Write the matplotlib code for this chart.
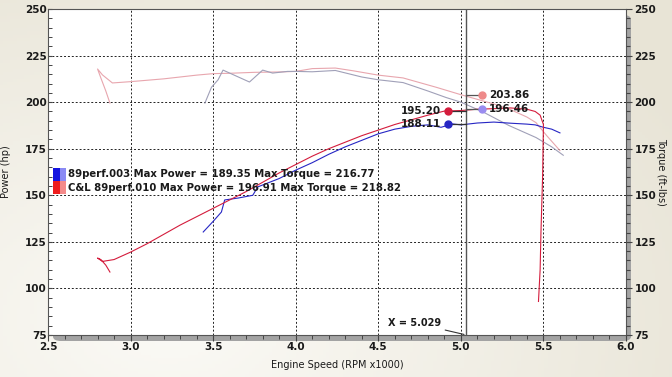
import numpy as np
import matplotlib
matplotlib.use("Agg")
import matplotlib.pyplot as plt
from matplotlib.patches import Rectangle, FancyBboxPatch
from matplotlib.colors import LinearSegmentedColormap

# ------------------------------------------------------------
# data (rpm x1000)
# ------------------------------------------------------------
# C&L 89perf.010 - power (hp)
red_pwr_rpm = [2.875, 2.85, 2.82, 2.80, 2.83, 2.90, 3.00, 3.10, 3.20, 3.30, 3.40, 3.50,
               3.60, 3.70, 3.80, 3.90, 4.00, 4.10, 4.20, 4.30, 4.40, 4.50, 4.60, 4.70,
               4.80, 4.90, 5.00, 5.10, 5.20, 5.30, 5.40, 5.45, 5.48, 5.50, 5.495, 5.485,
               5.48, 5.47]
red_pwr = [108.8, 112.5, 115.5, 116.3, 114.5, 115.5, 119.5, 124.0, 129.0, 134.0, 138.5, 143.0,
           147.5, 152.0, 157.0, 162.0, 166.5, 171.0, 175.0, 178.5, 182.0, 185.0, 188.0, 190.5,
           193.0, 195.2, 195.5, 196.2, 196.5, 196.9, 196.2, 195.0, 193.0, 188.0, 160.0, 130.0,
           110.0, 93.0]

# 89perf.003 - power (hp)
blue_pwr_rpm = [3.44, 3.50, 3.55, 3.57, 3.65, 3.74, 3.77, 3.90, 4.00, 4.10, 4.20, 4.30,
                4.40, 4.50, 4.60, 4.70, 4.80, 4.88, 4.95, 5.00, 5.10, 5.20, 5.30, 5.40,
                5.45, 5.50, 5.55, 5.60]
blue_pwr = [130.3, 136.0, 141.0, 147.5, 148.5, 150.0, 154.5, 159.0, 163.5, 167.5, 172.0, 176.0,
            179.5, 183.0, 185.5, 187.0, 187.8, 186.5, 188.3, 187.8, 188.8, 189.3, 188.7, 188.2,
            187.8, 186.5, 185.5, 183.5]

# C&L 89perf.010 - torque (ft-lbs)
red_tq_rpm = [2.875, 2.85, 2.82, 2.80, 2.83, 2.89, 3.00, 3.20, 3.40, 3.50, 3.60, 3.75,
              3.90, 4.00, 4.10, 4.24, 4.35, 4.50, 4.65, 4.85, 5.00, 5.10, 5.20, 5.30,
              5.40, 5.455, 5.52, 5.60]
red_tq = [199.5, 206.0, 213.0, 217.8, 214.6, 210.3, 211.0, 212.5, 214.5, 215.3, 215.5, 216.0,
          216.2, 216.5, 218.0, 218.3, 216.8, 214.5, 213.0, 208.0, 204.0, 201.5, 199.0, 196.0,
          192.0, 189.0, 182.0, 174.0]

# 89perf.003 - torque (ft-lbs)
blue_tq_rpm = [3.45, 3.49, 3.53, 3.56, 3.64, 3.72, 3.80, 3.86, 3.95, 4.00, 4.10, 4.24,
               4.40, 4.50, 4.65, 4.80, 4.91, 5.00, 5.135, 5.29, 5.455, 5.55, 5.62]
blue_tq = [199.5, 208.0, 212.0, 217.2, 214.0, 210.8, 217.2, 215.6, 216.5, 216.5, 216.3, 217.0,
           213.5, 212.0, 210.5, 206.0, 202.5, 200.0, 194.7, 187.5, 181.0, 176.0, 171.5]

cursor_x = 5.029
# values read at the cursor
cur_red_pwr, cur_blue_pwr = 195.20, 188.11
cur_red_tq, cur_blue_tq = 203.86, 196.46

legend_lines = ["89perf.003 Max Power = 189.35 Max Torque = 216.77",
                "C&L 89perf.010 Max Power = 196.91 Max Torque = 218.82"]

# ------------------------------------------------------------
# colours / fonts
# ------------------------------------------------------------
RED = "#d41c3c"
BLUE = "#2626c4"
RED_TQ = "#e8a6ae"
BLUE_TQ = "#a0a0b8"
INK = "#1a1a1a"
FS = 7.5
plt.rcParams["font.family"] = "DejaVu Sans"
plt.rcParams["font.weight"] = "bold"

fig = plt.figure(figsize=(6.72, 3.77), dpi=100, facecolor="#f1eee6")
W, H = 672, 377

# soft beige gradient behind everything
bg = fig.add_axes([0, 0, 1, 1], zorder=-10)
gx, gy = np.meshgrid(np.linspace(0, 1, 200), np.linspace(0, 1, 120))
glow = np.clip(1 - np.hypot((gx - 0.25) / 0.9, (gy - 0.85) / 1.1), 0, 1)
bg.imshow(glow, cmap=LinearSegmentedColormap.from_list("bg", ["#e8e4d6", "#fbfaf6"]),
          aspect="auto", extent=[0, 1, 0, 1], origin="upper")
bg.set_axis_off()

ax_l, ax_b, ax_w, ax_h = 48 / W, 42 / H, 578 / W, 326 / H

# drop shadow behind the plot panel
shadow = FancyBboxPatch((ax_l + 5 / W, ax_b - 6 / H), ax_w, ax_h,
                        boxstyle="round,pad=0,rounding_size=0.012",
                        transform=fig.transFigure, facecolor="#a3a3a3",
                        edgecolor="none", zorder=-5)
fig.patches.append(shadow)

ax = fig.add_axes([ax_l, ax_b, ax_w, ax_h])
ax.set_zorder(1)
ax.set_facecolor("white")
ax.set_xlim(2.5, 6.0)
ax.set_ylim(75, 250)
for s in ax.spines.values():
    s.set_color("#555555")
    s.set_linewidth(0.8)

ax.set_xticks(np.arange(2.5, 6.01, 0.5))
ax.set_xticks(np.arange(2.5, 6.01, 0.1), minor=True)
ax.set_yticks(np.arange(75, 251, 25))
ax.set_yticks(np.arange(75, 251, 5), minor=True)
ax.set_xticklabels([f"{v:.1f}" for v in np.arange(2.5, 6.01, 0.5)])
ax.tick_params(axis="both", which="major", labelsize=FS, colors="#444444",
               labelcolor=INK, length=4, width=0.8, pad=1)
ax.tick_params(axis="x", which="both", direction="out", length=4)
ax.tick_params(axis="y", which="both", direction="in", length=3)
ax.tick_params(which="minor", length=3, width=0.7, colors="#444444")

ax.grid(True, which="major", color="#222222", linestyle=(0, (2, 2)), linewidth=0.7)
ax.set_axisbelow(True)

# torque axis on the right
ax2 = ax.twinx()
ax2.set_ylim(75, 250)
ax2.set_yticks(np.arange(75, 251, 25))
ax2.set_yticks(np.arange(75, 251, 5), minor=True)
ax2.tick_params(axis="y", which="both", direction="out", labelsize=FS,
                colors="#444444", labelcolor=INK, length=4, width=0.8, pad=2)
ax2.tick_params(which="minor", length=3)
for s in ax2.spines.values():
    s.set_visible(False)

# curves
ax.plot(red_tq_rpm, red_tq, color=RED_TQ, lw=0.8, zorder=3)
ax.plot(blue_tq_rpm, blue_tq, color=BLUE_TQ, lw=0.8, zorder=3)
ax.plot(blue_pwr_rpm, blue_pwr, color=BLUE, lw=0.8, zorder=4)
ax.plot(red_pwr_rpm, red_pwr, color=RED, lw=0.8, zorder=5)

# cursor line and readouts
ax.axvline(cursor_x, color="#555555", lw=1.0, zorder=6)
pwr_x, tq_x = 4.92, 5.13
for yv, c in [(cur_red_pwr, RED), (cur_blue_pwr, BLUE)]:
    ax.plot([pwr_x, cursor_x], [yv, yv], color="#333333", lw=0.9, zorder=6)
    ax.plot(pwr_x, yv, "o", color=c, ms=5, zorder=7)
    ax.text(pwr_x - 0.04, yv, f"{yv:.2f}", ha="right", va="center",
            fontsize=FS, color=INK, zorder=8)
for yv, c in [(cur_red_tq, "#ee8a8a"), (cur_blue_tq, "#9a8cf0")]:
    ax.plot([cursor_x, tq_x], [yv, yv], color="#555555", lw=0.9, zorder=6)
    ax.plot(tq_x, yv, "o", color=c, ms=5, zorder=7)
    ax.text(tq_x + 0.04, yv, f"{yv:.2f}", ha="left", va="center",
            fontsize=FS, color=INK, zorder=8)

ax.annotate(f"X = {cursor_x:.3f}", xy=(cursor_x - 0.01, 75.3), xytext=(4.88, 81.5),
            ha="right", va="center", fontsize=FS - 0.5, color=INK,
            arrowprops=dict(arrowstyle="-", color="#333333", lw=0.8,
                            shrinkA=1, shrinkB=0))

# legend block
sq_w, sq_h = 13 / 578, 13 / 326
for i, (txt, dark, light) in enumerate(zip(legend_lines,
                                           ["#1414e0", "#ee1c1c"],
                                           ["#8a8af4", "#f48a8a"])):
    y0 = 1 - (168 + 13 * (i + 1) - 9) / 326
    ax.add_patch(Rectangle((5 / 578, y0), sq_w / 2, sq_h, transform=ax.transAxes,
                           facecolor=dark, edgecolor="none", zorder=9))
    ax.add_patch(Rectangle((5 / 578 + sq_w / 2, y0), sq_w / 2, sq_h, transform=ax.transAxes,
                           facecolor=light, edgecolor="none", zorder=9))
    ax.text(20 / 578, y0 + sq_h / 2, txt, transform=ax.transAxes, ha="left",
            va="center", fontsize=FS - 0.2, color=INK, zorder=9)

ax.set_xlabel("Engine Speed (RPM x1000)", fontsize=FS - 0.5, labelpad=6, color=INK)
ax.set_ylabel("Power (hp)", fontsize=FS - 0.5, labelpad=10, color=INK)
ax2.set_ylabel("Torque (ft-lbs)", fontsize=FS - 0.5, rotation=270, labelpad=7, color=INK)

fig.savefig("out.png", dpi=100, facecolor=fig.get_facecolor())
